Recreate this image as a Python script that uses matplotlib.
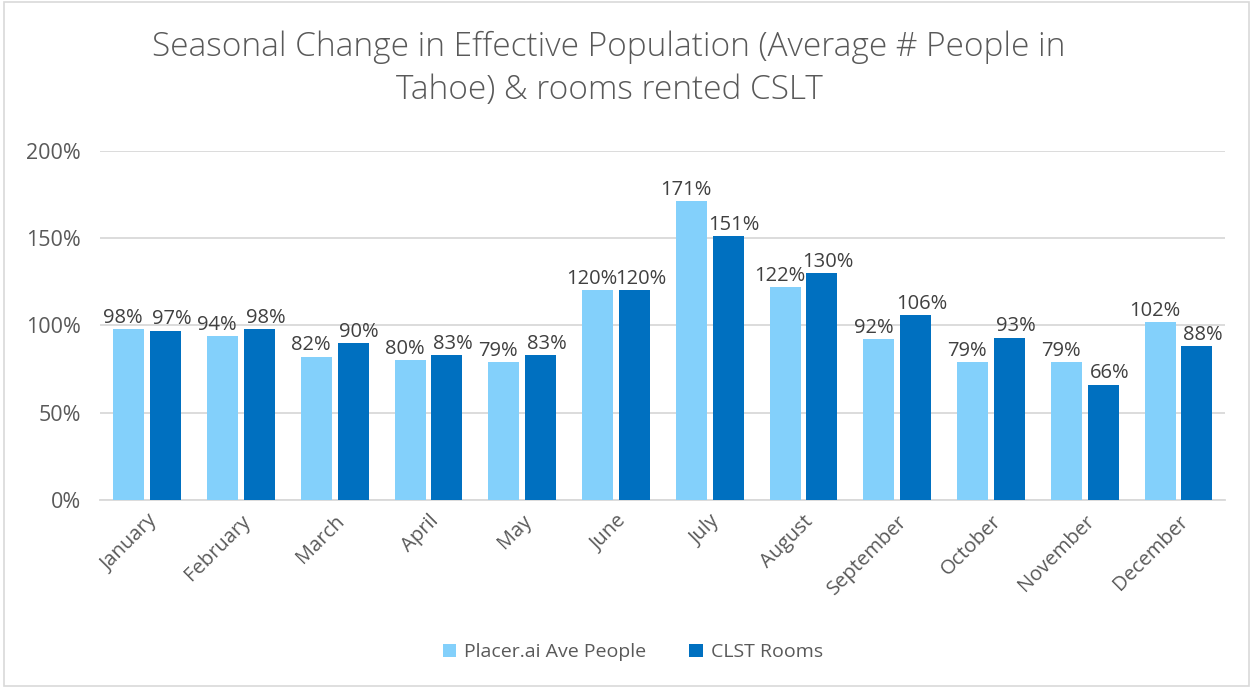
import matplotlib.pyplot as plt
import numpy as np
from matplotlib.patches import Rectangle

# Data
months = ["January", "February", "March", "April", "May", "June", "July",
          "August", "September", "October", "November", "December"]
placer_people = [98, 94, 82, 80, 79, 120, 171, 122, 92, 79, 79, 102]
clst_rooms = [97, 98, 90, 83, 83, 120, 151, 130, 106, 93, 66, 88]
y_ticks = [0, 50, 100, 150, 200]

LIGHT = "#83D0FB"
DARK = "#0070C0"
TEXT = "#595959"

plt.rcParams['font.family'] = ['Open Sans', 'DejaVu Sans']

fig = plt.figure(figsize=(12.53, 6.88), dpi=100)
ax = fig.add_axes([0.08, 0.273, 0.898, 0.508])

x = np.arange(len(months))
w = 0.33
off = 0.196
b1 = ax.bar(x - off, placer_people, w, color=LIGHT, label="Placer.ai Ave People", zorder=3)
b2 = ax.bar(x + off, clst_rooms, w, color=DARK, label="CLST Rooms", zorder=3)

# value labels above bars, pushed a little apart so pairs do not collide
for bars, vals, dx in ((b1, placer_people, -4), (b2, clst_rooms, 4.5)):
    for rect, v in zip(bars, vals):
        ax.annotate(f"{v}%", (rect.get_x() + rect.get_width() / 2, rect.get_height()),
                    xytext=(dx, 1), textcoords="offset points",
                    ha="center", va="bottom", fontsize=14.5, color="#404040")

ax.set_xlim(-0.5, len(months) - 0.5)
ax.set_ylim(0, 200)
ax.set_yticks(y_ticks)
ax.set_yticklabels([f"{t}%" for t in y_ticks], fontsize=15.5, color=TEXT)
ax.set_xticks(x)
ax.set_xticklabels(months, rotation=45, ha="right", rotation_mode="anchor",
                   fontsize=14.5, color=TEXT)
ax.tick_params(axis="y", length=0, pad=14)
ax.tick_params(axis="x", length=0, pad=8)
ax.grid(axis="y", color="#D9D9D9", linewidth=1.3, zorder=0)
for side in ("top", "right", "left"):
    ax.spines[side].set_visible(False)
ax.spines["bottom"].set_color("#D9D9D9")
ax.spines["bottom"].set_linewidth(1.3)

fig.text(0.486, 0.9, "Seasonal Change in Effective Population (Average # People in\nTahoe) & rooms rented CSLT",
         ha="center", va="center", fontsize=24, color=TEXT, fontweight="light",
         linespacing=1.35)

fig.legend(loc="center", bbox_to_anchor=(0.505, 0.052), ncol=2, frameon=False,
           fontsize=14, handlelength=0.7, handleheight=0.7, columnspacing=2.2,
           handletextpad=0.4, labelcolor=TEXT)

fig.patches.append(Rectangle((0.003, 0.003), 0.994, 0.994, transform=fig.transFigure,
                             fill=False, edgecolor="#D9D9D9", linewidth=1.2))

fig.savefig("out.png", dpi=100)
